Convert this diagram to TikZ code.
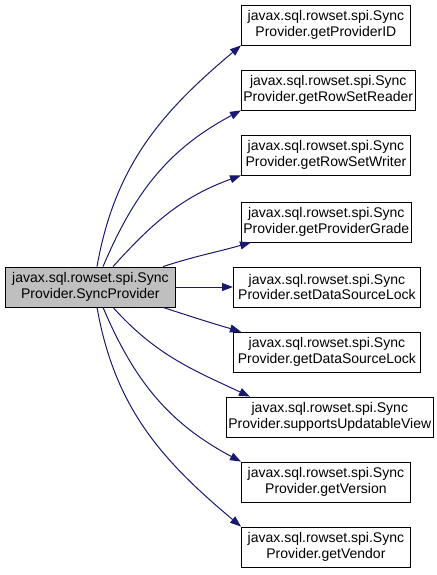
\documentclass[tikz,border=0pt]{standalone}
\usepackage{fontspec}
\setmainfont{Liberation Sans}
\usetikzlibrary{arrows.meta}
\definecolor{edgeblue}{HTML}{191970}
\definecolor{mainfill}{HTML}{BFBFBF}
\tikzset{
  fn/.style={draw=black, line width=0.8pt, fill=white, rectangle, anchor=west,
    minimum height=40pt, inner sep=2pt, align=center,
    font=\fontsize{14pt}{15.5pt}\selectfont},
  call/.style={draw=edgeblue, line width=1pt,
    -{Triangle[length=11pt,width=8pt]}},
}
\begin{document}
\begin{tikzpicture}[x=1pt, y=-1pt]
  \useasboundingbox (0,0) rectangle (436,575);
  % caller
  \node[fn, fill=mainfill, minimum width=170pt] (main) at (5,287)
    {javax.sql.rowset.spi.Sync\\Provider.SyncProvider};
  % callees
  \node[fn, minimum width=169pt] (pid) at (241,25)
    {javax.sql.rowset.spi.Sync\\Provider.getProviderID};
  \node[fn, minimum width=169pt] (reader) at (241,90)
    {javax.sql.rowset.spi.Sync\\Provider.getRowSetReader};
  \node[fn, minimum width=169pt] (writer) at (241,155)
    {javax.sql.rowset.spi.Sync\\Provider.getRowSetWriter};
  \node[fn, minimum width=169pt] (grade) at (241,222)
    {javax.sql.rowset.spi.Sync\\Provider.getProviderGrade};
  \node[fn, minimum width=187pt] (setlock) at (233,287)
    {javax.sql.rowset.spi.Sync\\Provider.setDataSourceLock};
  \node[fn, minimum width=187pt] (getlock) at (233,352)
    {javax.sql.rowset.spi.Sync\\Provider.getDataSourceLock};
  \node[fn, minimum width=202pt] (updview) at (226,417)
    {javax.sql.rowset.spi.Sync\\Provider.supportsUpdatableView};
  \node[fn, minimum width=169pt] (version) at (241,482)
    {javax.sql.rowset.spi.Sync\\Provider.getVersion};
  \node[fn, minimum width=169pt] (vendor) at (241,547)
    {javax.sql.rowset.spi.Sync\\Provider.getVendor};
  % calls
  \draw[call] ([xshift=92pt]main.north west) to[out=80,in=220] (pid.south west);
  \draw[call] ([xshift=98pt]main.north west) to[out=67,in=208] (reader.south west);
  \draw[call] ([xshift=108pt]main.north west) to[out=48,in=200] (writer.south west);
  \draw[call] ([xshift=158pt]main.north west) to[out=18,in=196] ([xshift=10pt]grade.south west);
  \draw[call] (main.east) -- (setlock.west);
  \draw[call] ([xshift=158pt]main.south west) to[out=-18,in=164] ([xshift=8pt]getlock.north west);
  \draw[call] ([xshift=108pt]main.south west) to[out=-48,in=155] ([xshift=24pt]updview.north west);
  \draw[call] ([xshift=98pt]main.south west) to[out=-67,in=152] (version.north west);
  \draw[call] ([xshift=92pt]main.south west) to[out=-80,in=140] (vendor.north west);
\end{tikzpicture}
\end{document}
